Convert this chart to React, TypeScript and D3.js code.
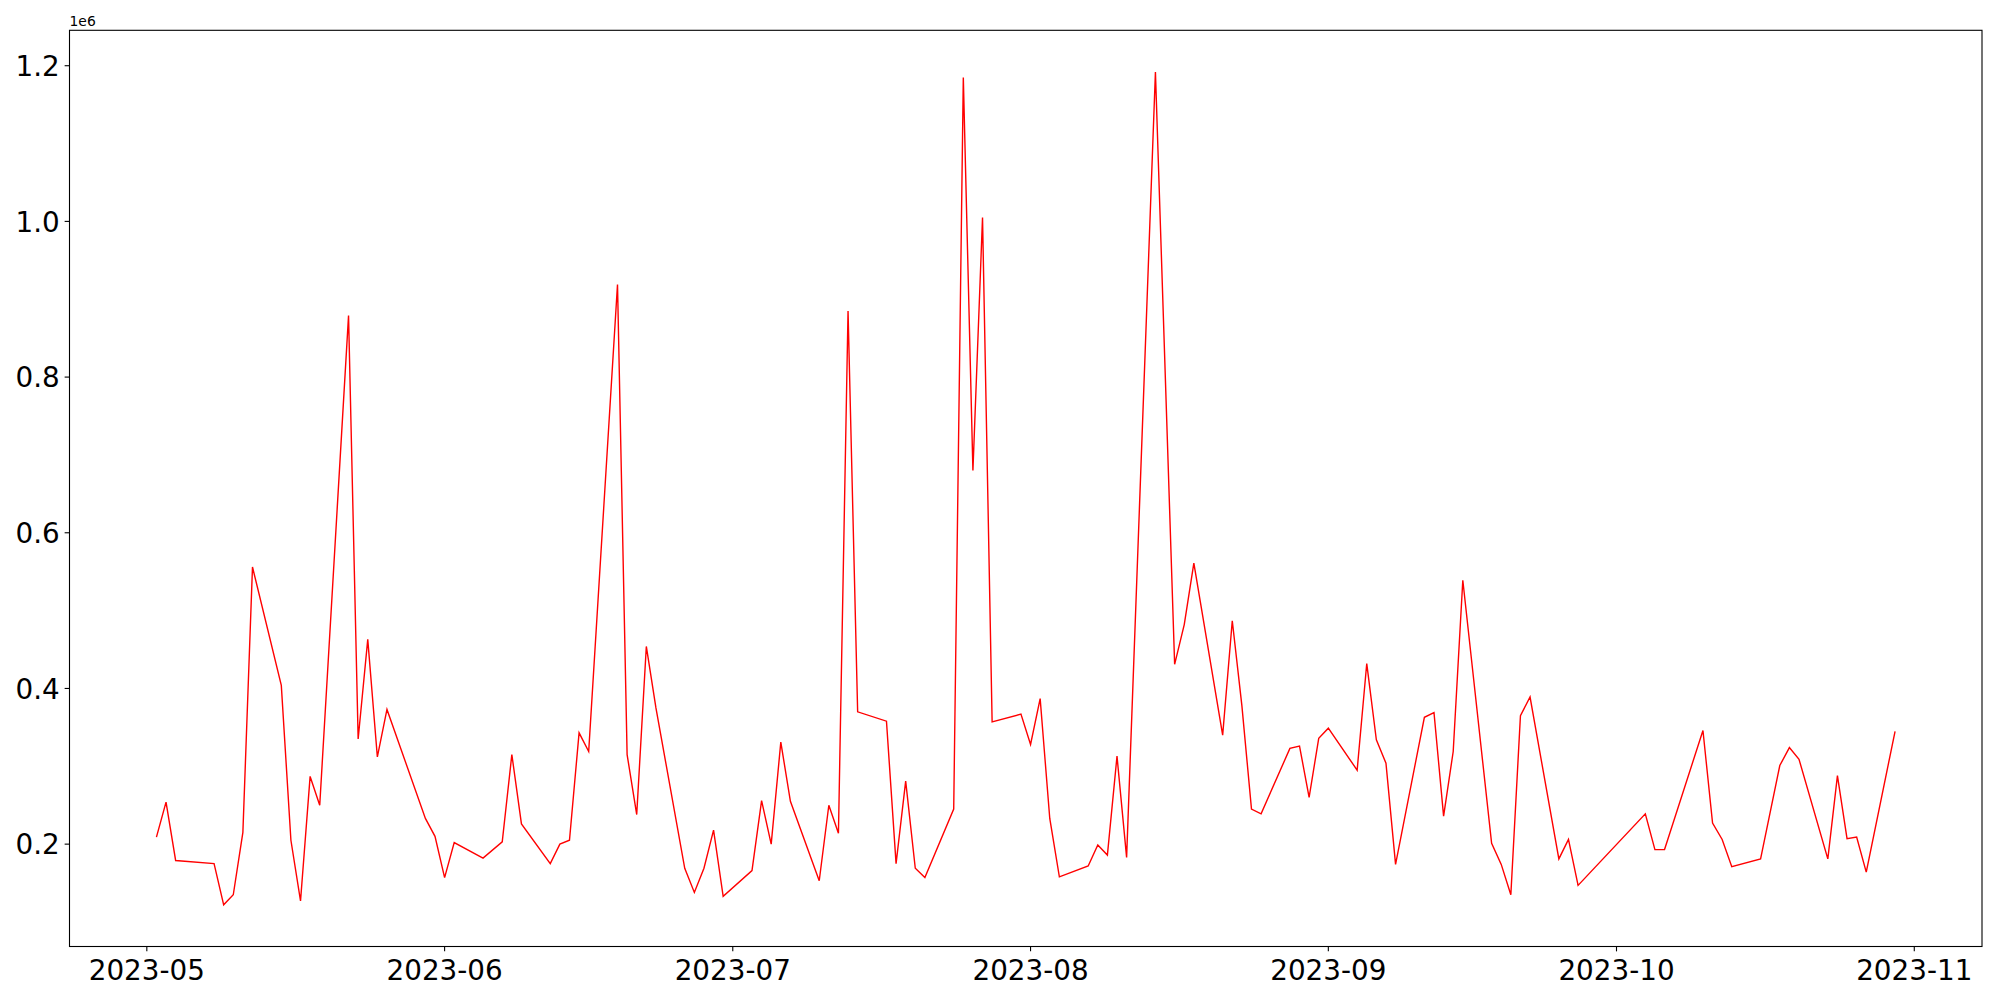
import React from 'react';
import * as d3 from 'd3';

const dates = [
  '2023-05-02','2023-05-03','2023-05-04','2023-05-08','2023-05-09','2023-05-10','2023-05-11','2023-05-12',
  '2023-05-15','2023-05-16','2023-05-17','2023-05-18','2023-05-19','2023-05-22','2023-05-23','2023-05-24',
  '2023-05-25','2023-05-26','2023-05-30','2023-05-31','2023-06-01','2023-06-02','2023-06-05','2023-06-07',
  '2023-06-08','2023-06-09','2023-06-12','2023-06-13','2023-06-14','2023-06-15','2023-06-16','2023-06-19',
  '2023-06-20','2023-06-21','2023-06-22','2023-06-23','2023-06-26','2023-06-27','2023-06-28','2023-06-29',
  '2023-06-30','2023-07-03','2023-07-04','2023-07-05','2023-07-06','2023-07-07','2023-07-10','2023-07-11',
  '2023-07-12','2023-07-13','2023-07-14','2023-07-17','2023-07-18','2023-07-19','2023-07-20','2023-07-21',
  '2023-07-24','2023-07-25','2023-07-26','2023-07-27','2023-07-28','2023-07-31','2023-08-01','2023-08-02',
  '2023-08-03','2023-08-04','2023-08-07','2023-08-08','2023-08-09','2023-08-10','2023-08-11','2023-08-14',
  '2023-08-16','2023-08-17','2023-08-18','2023-08-21','2023-08-22','2023-08-23','2023-08-24','2023-08-25',
  '2023-08-28','2023-08-29','2023-08-30','2023-08-31','2023-09-01','2023-09-04','2023-09-05','2023-09-06',
  '2023-09-07','2023-09-08','2023-09-11','2023-09-12','2023-09-13','2023-09-14','2023-09-15','2023-09-18',
  '2023-09-19','2023-09-20','2023-09-21','2023-09-22','2023-09-25','2023-09-26','2023-09-27','2023-10-04',
  '2023-10-05','2023-10-06','2023-10-10','2023-10-11','2023-10-12','2023-10-13','2023-10-16','2023-10-18',
  '2023-10-19','2023-10-20','2023-10-23','2023-10-24','2023-10-25','2023-10-26','2023-10-27','2023-10-30',
];

const values = [
  209000, 254000, 179000, 175000, 122000, 135000, 215000, 556000,
  404000, 205000, 127000, 287000, 250000, 879000, 335000, 463000,
  312000, 373000, 233000, 210000, 157000, 202000, 182000, 203000,
  315000, 226000, 175000, 200000, 205000, 343000, 319000, 919000,
  315000, 238000, 454000, 375000, 169000, 138000, 169000, 218000,
  133000, 166000, 256000, 200000, 331000, 255000, 153000, 250000,
  214000, 885000, 370000, 358000, 175000, 281000, 169000, 157000,
  245000, 1185000, 680000, 1005000, 357000, 367000, 328000, 387000,
  233000, 158000, 172000, 199000, 186000, 313000, 183000, 1192000,
  431000, 482000, 561000, 340000, 487000, 378000, 245000, 239000,
  323000, 326000, 260000, 336000, 349000, 295000, 432000, 334000,
  304000, 174000, 363000, 369000, 236000, 319000, 539000, 201000,
  174000, 135000, 365000, 389000, 181000, 206000, 147000, 239000,
  193000, 193000, 346000, 227000, 206000, 171000, 181000, 301000,
  324000, 309000, 181000, 288000, 207000, 209000, 164000, 345000,
];

const yTicks = [200000, 400000, 600000, 800000, 1000000, 1200000];
const yTickLabels = ['0.2', '0.4', '0.6', '0.8', '1.0', '1.2'];
const offsetLabel = '1e6';

const W = 2000;
const H = 1000;
const L = 69.5;
const R = 1982;
const T = 30.3;
const B = 946.5;
const FONT = 'DejaVu Sans, sans-serif';
const TICK_FS = 27.8;

export default function App() {
  const parse = d3.timeParse('%Y-%m-%d');
  const data = dates.map((d, i) => ({ date: parse(d) as Date, value: values[i] }));

  const [d0, d1] = d3.extent(data, (d) => d.date) as [Date, Date];
  const span = d1.getTime() - d0.getTime();
  const x = d3
    .scaleTime()
    .domain([new Date(d0.getTime() - span * 0.05), new Date(d1.getTime() + span * 0.05)])
    .range([L, R]);

  const [v0, v1] = d3.extent(data, (d) => d.value) as [number, number];
  const vs = v1 - v0;
  const y = d3.scaleLinear().domain([v0 - vs * 0.05, v1 + vs * 0.05]).range([B, T]);

  const line = d3
    .line<{ date: Date; value: number }>()
    .x((d) => x(d.date))
    .y((d) => y(d.value));

  const xTicks = x.ticks(d3.timeMonth.every(1) as any);
  const fmt = d3.timeFormat('%Y-%m');
  const tickLen = 4.86;
  const pad = 4.86;

  return (
    <svg
      width={W}
      height={H}
      style={{ position: 'absolute', left: 0, top: 0, background: '#fff' }}
      fontFamily={FONT}
    >
      <rect x={0} y={0} width={W} height={H} fill="#fff" />
      <path d={line(data) || ''} fill="none" stroke="#ff0000" strokeWidth={1.4} strokeLinejoin="miter" />
      <rect x={L} y={T} width={R - L} height={B - T} fill="none" stroke="#000" strokeWidth={1.1} />
      {xTicks.map((t, i) => (
        <g key={'x' + i}>
          <line x1={x(t)} x2={x(t)} y1={B} y2={B + tickLen} stroke="#000" strokeWidth={1.1} />
          <text x={x(t)} y={B + tickLen + pad + 23.8} textAnchor="middle" fontSize={TICK_FS} fill="#000">
            {fmt(t)}
          </text>
        </g>
      ))}
      {yTicks.map((t, i) => (
        <g key={'y' + i}>
          <line x1={L - tickLen} x2={L} y1={y(t)} y2={y(t)} stroke="#000" strokeWidth={1.1} />
          <text x={L - tickLen - pad} y={y(t) + 10.1} textAnchor="end" fontSize={TICK_FS} fill="#000">
            {yTickLabels[i]}
          </text>
        </g>
      ))}
      <text x={L} y={T - 4.5} fontSize={13.9} fill="#000">
        {offsetLabel}
      </text>
    </svg>
  );
}
